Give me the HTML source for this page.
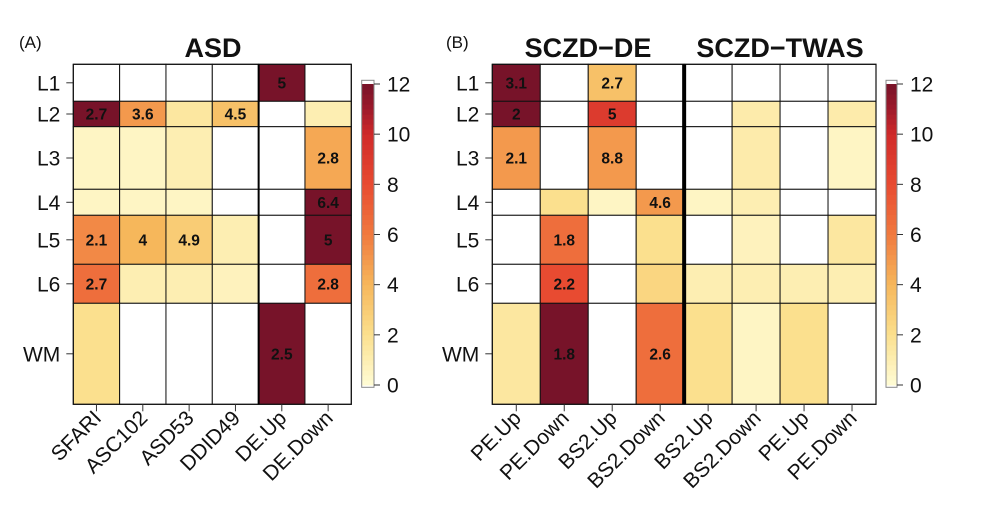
<!DOCTYPE html>
<html><head><meta charset="utf-8"><style>
body{margin:0;background:#fff}
svg{display:block;font-family:"Liberation Sans",sans-serif}
</style></head><body>
<svg id="chart" width="997" height="506" viewBox="0 0 997 506"></svg>
<script>
const rowLabels=["L1","L2","L3","L4","L5","L6","WM"];
const rowWeights=[37,25.4,62.6,26,49,39,101];
const colsA=["SFARI","ASC102","ASD53","DDID49","DE.Up","DE.Down"];
const valuesA=[
[null,null,null,null,12,null],
[12,5,1.5,3.5,null,1],
[0.5,0.5,1,null,null,4.5],
[0.5,0.5,0.5,null,null,12],
[5.5,4,3,1,null,12],
[6.5,1,1,0.7,null,6.5],
[2,null,null,null,12,null]];
const labelsA=[
["","","","","5",""],
["2.7","3.6","","4.5","",""],
["","","","","","2.8"],
["","","","","","6.4"],
["2.1","4","4.9","","","5"],
["2.7","","","","","2.8"],
["","","","","2.5",""]];
const colsB=["PE.Up","PE.Down","BS2.Up","BS2.Down","BS2.Up","BS2.Down","PE.Up","PE.Down"];
const valuesB=[
[12,null,3.5,null,null,null,null,null],
[12,null,9,null,null,1.2,null,1.2],
[5,null,5,null,null,1.2,null,0.5],
[null,2,0.5,5,0.5,1,null,null],
[null,6.5,null,2,null,0.7,null,1.5],
[null,8,null,2.5,1,1,1,1],
[1.5,12,null,6.5,2,0.5,2,null]];
const labelsB=[
["3.1","","2.7","","","","",""],
["2","","5","","","","",""],
["2.1","","8.8","","","","",""],
["","","","4.6","","","",""],
["","1.8","","","","","",""],
["","2.2","","","","","",""],
["","1.8","","2.6","","","",""]];
const legendTicks=[0,2,4,6,8,10,12];

const stops=[[0,[255,252,214]],[2,[251,224,142]],[4,[246,183,91]],[6,[240,122,63]],[8,[232,75,49]],[10,[208,42,42]],[11,[158,26,43]],[12,[119,19,41]]];
function color(v){
  for(let i=0;i<stops.length-1;i++){
    const[a,ca]=stops[i],[b,cb]=stops[i+1];
    if(v<=b){const t=(v-a)/(b-a);return "rgb("+ca.map((c,k)=>Math.round(c+(cb[k]-c)*t)).join(",")+")";}
  }
  return "rgb(119,19,41)";
}
const svg=document.getElementById('chart');
const NS="http://www.w3.org/2000/svg";
function mk(tag,attrs,parent){const e=document.createElementNS(NS,tag);for(const k in attrs)e.setAttribute(k,attrs[k]);(parent||svg).appendChild(e);return e;}
const top0=64.3,bot0=404.3;
const totalW=rowWeights.reduce((a,b)=>a+b,0);
function rowY(i){let s=0;for(let k=0;k<i;k++)s+=rowWeights[k];return top0+(bot0-top0)*s/totalW;}

function panel(name,x0,x1,cols,vals,labs,sepIndex,cbx,cbw){
  const g=mk('g',{});
  
  
  const cw=(x1-x0)/cols.length;
  const colX=j=>x0+j*cw;
  for(let i=0;i<rowLabels.length;i++){
    const y=rowY(i),h=rowY(i+1)-y;
    for(let j=0;j<cols.length;j++){
      const v=vals[i][j];
      const r=mk('rect',{x:colX(j),y:y,width:cw,height:h,fill:v==null?'#fff':color(v),stroke:'#111','stroke-width':1},g);
      
      
      if(labs[i][j]){
        const t=mk('text',{x:colX(j)+cw/2,y:y+h/2+5.5,'text-anchor':'middle','font-size':15.5,'font-weight':'bold',fill:'#111'},g);
        t.textContent=labs[i][j];
        
        
      }
    }
    const ym=y+h/2;
    mk('line',{x1:x0-7,x2:x0,y1:ym,y2:ym,stroke:'#333'},g);
    const t=mk('text',{x:x0-13,y:ym+7.5,'text-anchor':'end','font-size':21,fill:'#111'},g);
    t.textContent=rowLabels[i];
    
    
  }
  mk('rect',{x:x0,y:top0,width:x1-x0,height:bot0-top0,fill:'none',stroke:'#111','stroke-width':1.2},g);
  const sx=colX(sepIndex);
  mk('line',{x1:sx,x2:sx,y1:top0,y2:bot0,stroke:'#000','stroke-width':name==='panel-b'?4:2},g);
  for(let j=0;j<cols.length;j++){
    const cx=colX(j)+cw/2;
    mk('line',{x1:cx,x2:cx,y1:bot0,y2:bot0+7,stroke:'#333'},g);
    const t=mk('text',{x:cx+6,y:bot0+15,'text-anchor':'end','font-size':21,fill:'#111',transform:'rotate(-45 '+(cx+6)+' '+(bot0+15)+')'},g);
    t.textContent=cols[j];
    
    
  }
  const cbTop=80.3,cbBot=387.3,yv=v=>385-(385-84)*v/12;
  const n=60;
  for(let k=0;k<n;k++){
    const v0=12*k/n;
    mk('rect',{x:cbx,y:yv(v0+12/n),width:cbw,height:yv(v0)-yv(v0+12/n)+0.5,fill:color(v0+6/n)},g);
  }
  mk('rect',{x:cbx,y:cbTop,width:cbw,height:cbBot-cbTop,fill:'none',stroke:'#888'},g);
  legendTicks.forEach(v=>{
    mk('line',{x1:cbx+cbw,x2:cbx+cbw+6,y1:yv(v),y2:yv(v),stroke:'#333'},g);
    const t=mk('text',{x:cbx+cbw+13,y:yv(v)+7.5,'font-size':21,fill:'#111'},g);
    t.textContent=v;
    
    
  });
}
panel('panel-a',73.3,351.3,colsA,valuesA,labelsA,4,361.7,12.3);
panel('panel-b',492.3,876,colsB,valuesB,labelsB,4,886,11);
function txt(s,x,y,size,weight,anchor,name){
  const t=mk('text',{x:x,y:y,'font-size':size,'font-weight':weight,'text-anchor':anchor,fill:'#111'});
  t.textContent=s;
  
  
}
txt('(A)',19,48,17,'normal','start','panel-a-tag');
txt('ASD',213,57,27,'bold','middle','panel-a-title');
txt('(B)',446,48,17,'normal','start','panel-b-tag');
txt('SCZD\u2212DE',588,57,27,'bold','middle','sczd-de-title');
txt('SCZD\u2212TWAS',780,57,27,'bold','middle','sczd-twas-title');
</script>
</body></html>
